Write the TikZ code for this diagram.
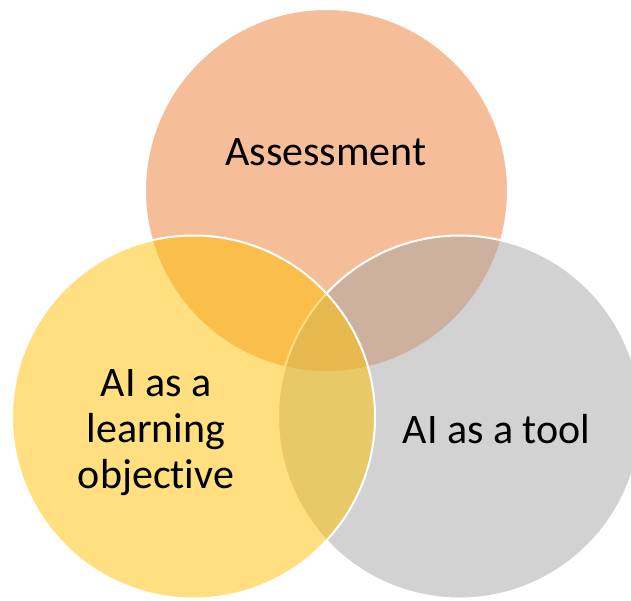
\documentclass[tikz,border=0pt]{standalone}
\usepackage{fontspec}
\setmainfont{Carlito}[Ligatures={NoCommon}]
\usepackage{xcolor}
\usepackage{tikz}
\definecolor{accorange}{HTML}{ED7D31}
\definecolor{accgold}{HTML}{FFC000}
\definecolor{accgrey}{HTML}{A5A5A5}

\begin{document}
\begin{tikzpicture}[x=1pt,y=-1pt,
    venn/.style={circle,minimum size=363pt,inner sep=0pt,draw=white,line width=2pt,fill opacity=0.5},
    lbl/.style={font=\fontsize{42}{46}\selectfont,align=center,anchor=base}]
\clip (0,0) rectangle (631,600);
\node[venn,fill=accorange] (assess) at (326.5,190.5) {};
\node[venn,fill=accgrey] (tool) at (459.5,417) {};
\node[venn,fill=accgold] (objective) at (193.5,417) {};
\node[lbl] (assesstext) at (326,165) {Assessment};
\node[lbl] (tooltext) at (496.5,443) {AI as a tool};
\node[lbl] (objectivetext) at (156,488) {AI as a\\learning\\objective};
\end{tikzpicture}
\end{document}
